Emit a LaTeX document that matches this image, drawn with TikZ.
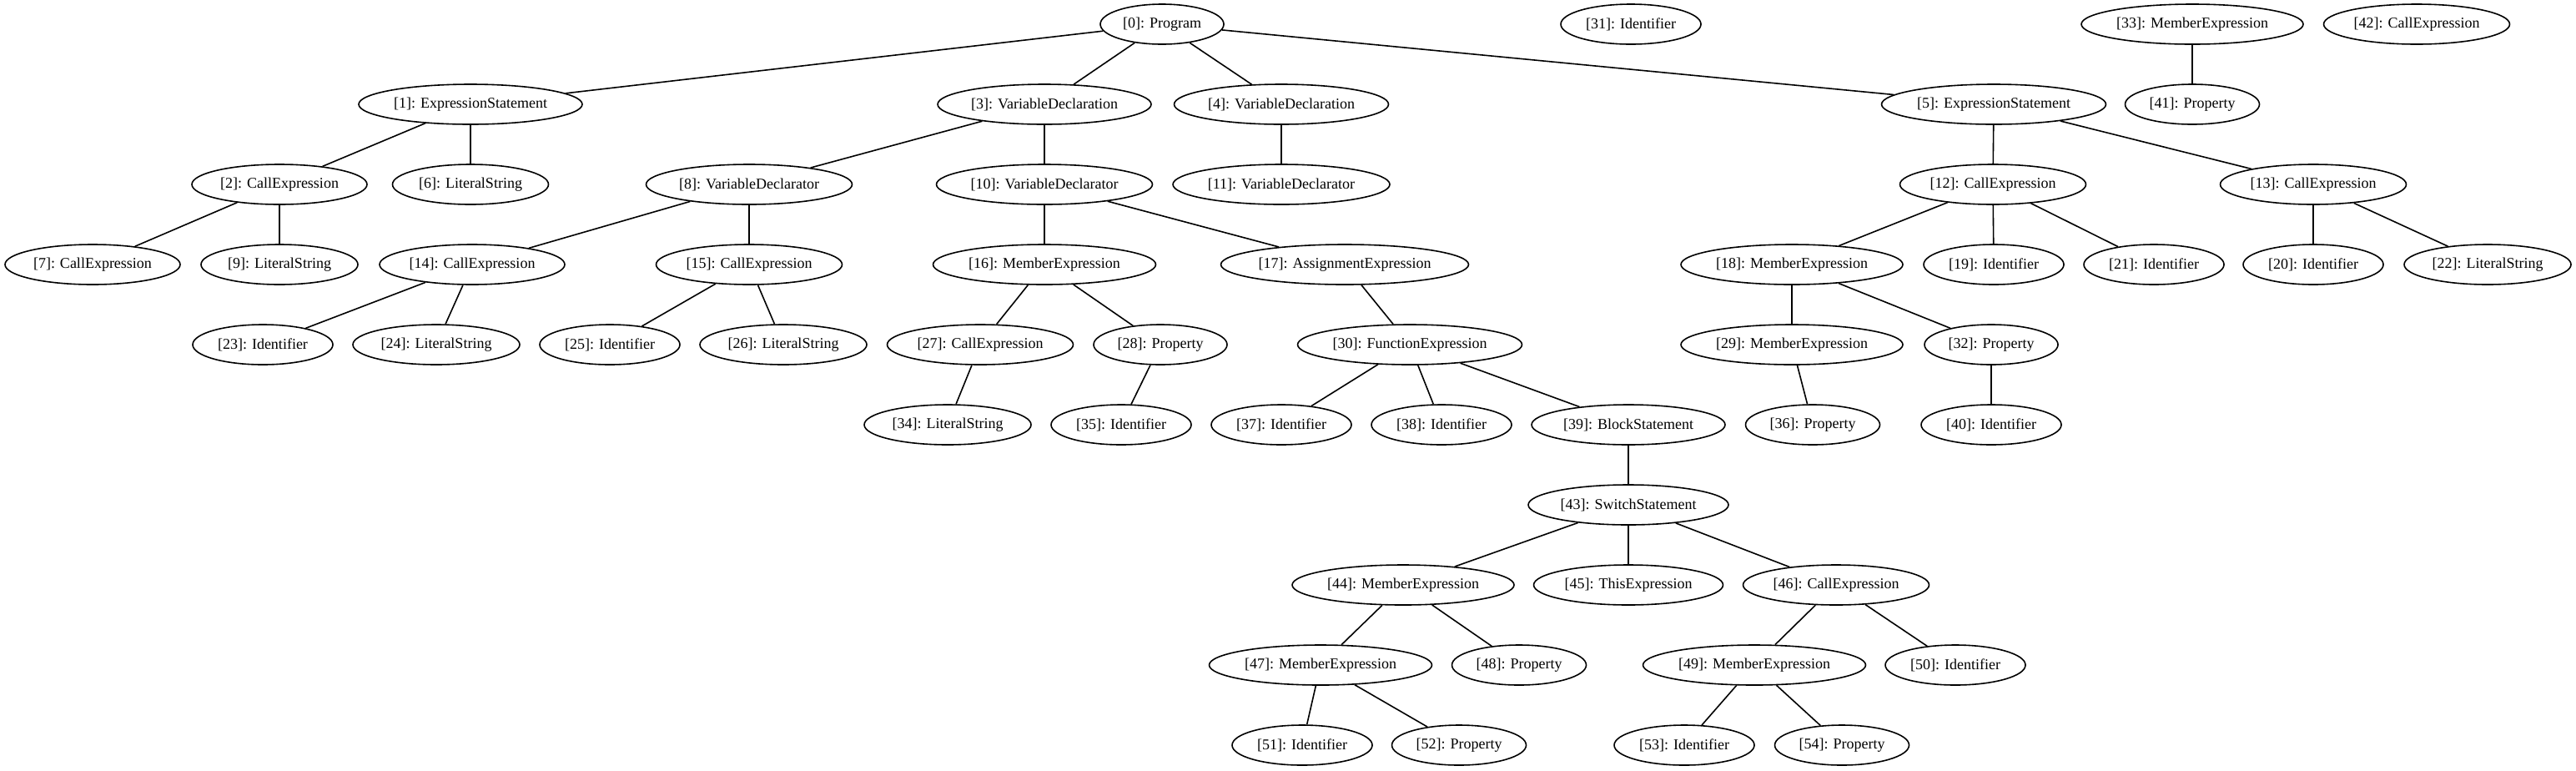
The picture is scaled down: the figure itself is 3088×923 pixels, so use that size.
\documentclass[tikz,border=0pt]{standalone}
\usepackage{fontspec}
\setmainfont{Liberation Serif}
\usetikzlibrary{shapes.geometric}
\tikzset{
  nd/.style={ellipse, draw, line width=0.8pt, inner sep=0pt, minimum height=24pt,
    minimum width=#1*0.5pt, font=\fontsize{9}{11}\selectfont},
  edge/.style={line width=0.8pt}
}
\begin{document}
\begin{tikzpicture}[x=0.5pt,y=-0.5pt]
\fill[white] (0,0) rectangle (3088,923);
\useasboundingbox (0,0) rectangle (3088,923);
% row 0
\node[nd=148] (n0) at (1393,29) {[0]: Program};
\node[nd=168] (n31) at (1955,29) {[31]: Identifier};
\node[nd=266] (n33) at (2628,29) {[33]: MemberExpression};
\node[nd=223] (n42) at (2897,29) {[42]: CallExpression};
% row 1
\node[nd=268] (n1) at (564,125) {[1]: ExpressionStatement};
\node[nd=256] (n3) at (1252,125) {[3]: VariableDeclaration};
\node[nd=257] (n4) at (1536,125) {[4]: VariableDeclaration};
\node[nd=269] (n5) at (2390,125) {[5]: ExpressionStatement};
\node[nd=161] (n41) at (2628,125) {[41]: Property};
% row 2
\node[nd=210] (n2) at (335,221) {[2]: CallExpression};
\node[nd=187] (n6) at (564,221) {[6]: LiteralString};
\node[nd=247] (n8) at (898,221) {[8]: VariableDeclarator};
\node[nd=259] (n10) at (1252,221) {[10]: VariableDeclarator};
\node[nd=260] (n11) at (1536,221) {[11]: VariableDeclarator};
\node[nd=223] (n12) at (2389,221) {[12]: CallExpression};
\node[nd=223] (n13) at (2773,221) {[13]: CallExpression};
% row 3
\node[nd=210] (n7) at (111,317) {[7]: CallExpression};
\node[nd=188] (n9) at (335,317) {[9]: LiteralString};
\node[nd=222] (n14) at (566,317) {[14]: CallExpression};
\node[nd=223] (n15) at (898,317) {[15]: CallExpression};
\node[nd=267] (n16) at (1252,317) {[16]: MemberExpression};
\node[nd=297] (n17) at (1612,317) {[17]: AssignmentExpression};
\node[nd=266] (n18) at (2148,317) {[18]: MemberExpression};
\node[nd=168] (n19) at (2390,317) {[19]: Identifier};
\node[nd=168] (n21) at (2582,317) {[21]: Identifier};
\node[nd=168] (n20) at (2773,317) {[20]: Identifier};
\node[nd=200] (n22) at (2982,317) {[22]: LiteralString};
% row 4
\node[nd=168] (n23) at (315,413) {[23]: Identifier};
\node[nd=200] (n24) at (523,413) {[24]: LiteralString};
\node[nd=168] (n25) at (731,413) {[25]: Identifier};
\node[nd=200] (n26) at (939,413) {[26]: LiteralString};
\node[nd=223] (n27) at (1175,413) {[27]: CallExpression};
\node[nd=160] (n28) at (1391,413) {[28]: Property};
\node[nd=269] (n30) at (1690,413) {[30]: FunctionExpression};
\node[nd=266] (n29) at (2148,413) {[29]: MemberExpression};
\node[nd=160] (n32) at (2387,413) {[32]: Property};
% row 5
\node[nd=200] (n34) at (1136,509) {[34]: LiteralString};
\node[nd=168] (n35) at (1344,509) {[35]: Identifier};
\node[nd=168] (n37) at (1536,509) {[37]: Identifier};
\node[nd=168] (n38) at (1728,509) {[38]: Identifier};
\node[nd=232] (n39) at (1952,509) {[39]: BlockStatement};
\node[nd=161] (n36) at (2173,509) {[36]: Property};
\node[nd=168] (n40) at (2387,509) {[40]: Identifier};
% row 6
\node[nd=240] (n43) at (1952,605) {[43]: SwitchStatement};
% row 7
\node[nd=266] (n44) at (1682,701) {[44]: MemberExpression};
\node[nd=227] (n45) at (1952,701) {[45]: ThisExpression};
\node[nd=223] (n46) at (2201,701) {[46]: CallExpression};
% row 8
\node[nd=267] (n47) at (1583,797) {[47]: MemberExpression};
\node[nd=161] (n48) at (1821,797) {[48]: Property};
\node[nd=267] (n49) at (2103,797) {[49]: MemberExpression};
\node[nd=168] (n50) at (2344,797) {[50]: Identifier};
% row 9
\node[nd=168] (n51) at (1561,893) {[51]: Identifier};
\node[nd=161] (n52) at (1749,893) {[52]: Property};
\node[nd=168] (n53) at (2019,893) {[53]: Identifier};
\node[nd=161] (n54) at (2208,893) {[54]: Property};
% edges
\foreach \a/\b in {n0/n1,n0/n3,n0/n4,n0/n5,n1/n2,n1/n6,n2/n7,n2/n9,n3/n8,n3/n10,
  n4/n11,n8/n14,n8/n15,n10/n16,n10/n17,n14/n23,n14/n24,n15/n25,n15/n26,
  n16/n27,n16/n28,n27/n34,n28/n35,n17/n30,n30/n37,n30/n38,n30/n39,n39/n43,
  n43/n44,n43/n45,n43/n46,n44/n47,n44/n48,n47/n51,n47/n52,n46/n49,n46/n50,
  n49/n53,n49/n54,n5/n12,n5/n13,n12/n18,n12/n19,n12/n21,n13/n20,n13/n22,
  n18/n29,n18/n32,n29/n36,n32/n40,n33/n41}
  \draw[edge] (\a) -- (\b);
\end{tikzpicture}
\end{document}
